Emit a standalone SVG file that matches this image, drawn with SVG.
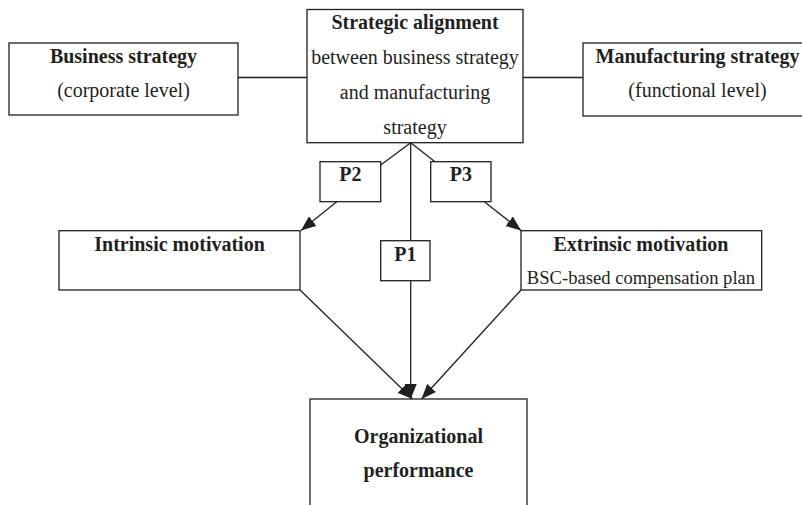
<svg xmlns="http://www.w3.org/2000/svg" width="802" height="505" viewBox="0 0 802 505">
<style>
.box{fill:#fff;stroke:#231f20;stroke-width:1.3}
.t{font-family:"Liberation Serif","Times New Roman",serif;font-size:20px;fill:#231f20;text-anchor:middle}
.b{font-weight:bold}
.c{stroke:#231f20;stroke-width:1.3;fill:none}
</style>
<defs>
<marker id="ah" markerUnits="userSpaceOnUse" markerWidth="16" markerHeight="12" refX="15" refY="6" orient="auto">
<path d="M0,0 L15,6 L0,12 Z" fill="#231f20"/>
</marker>
</defs>
<rect width="802" height="505" fill="#fff"/>
<g id="connectors">
<line class="c" x1="238" y1="77.5" x2="307" y2="77.5"/>
<line class="c" x1="523" y1="77.5" x2="583" y2="77.5"/>
<line class="c" x1="410.7" y1="142.7" x2="380.7" y2="165"/>
<line class="c" x1="410.7" y1="142.7" x2="435" y2="161.7"/>
<line class="c" x1="410.7" y1="142.7" x2="410.7" y2="240.7"/>
<line class="c" x1="336.7" y1="201.7" x2="301" y2="230.5" marker-end="url(#ah)"/>
<line class="c" x1="484.3" y1="201.7" x2="521" y2="230.5" marker-end="url(#ah)"/>
<line class="c" x1="410.7" y1="280.7" x2="410.7" y2="399" marker-end="url(#ah)"/>
<line class="c" x1="300" y1="290" x2="412.5" y2="399" marker-end="url(#ah)"/>
<line class="c" x1="521" y1="290" x2="421.5" y2="399" marker-end="url(#ah)"/>
</g>
<g id="business">
<rect class="box" x="9" y="43" width="229" height="72"/>
<text class="t b" x="123.5" y="63.3">Business strategy</text>
<text class="t" x="123.5" y="96.5">(corporate level)</text>
</g>
<g id="alignment">
<rect class="box" x="307" y="9.5" width="216" height="133.2"/>
<text class="t b" x="415" y="29.3">Strategic alignment</text>
<text class="t" x="415" y="64">between business strategy</text>
<text class="t" x="415" y="99">and manufacturing</text>
<text class="t" x="415" y="133.5">strategy</text>
</g>
<g id="manufacturing">
<rect class="box" x="583" y="43" width="229" height="73"/>
<text class="t b" x="697.5" y="63.3">Manufacturing strategy</text>
<text class="t" x="697.5" y="96.5">(functional level)</text>
</g>
<g id="p2">
<rect class="box" x="320" y="161.7" width="60.7" height="40"/>
<text class="t b" x="350.3" y="180.7">P2</text>
</g>
<g id="p3">
<rect class="box" x="430.7" y="161.7" width="60.3" height="40"/>
<text class="t b" x="460.8" y="180.7">P3</text>
</g>
<g id="p1">
<rect class="box" x="380.7" y="240.7" width="49.3" height="40"/>
<text class="t b" x="405.3" y="260.7">P1</text>
</g>
<g id="intrinsic">
<rect class="box" x="59" y="230.7" width="241" height="59.3"/>
<text class="t b" x="179.5" y="250.7">Intrinsic motivation</text>
</g>
<g id="extrinsic">
<rect class="box" x="521" y="230.7" width="240.7" height="59.3"/>
<text class="t b" x="641" y="250.7">Extrinsic motivation</text>
<text class="t" x="641" y="283.5" style="font-size:18.6px">BSC-based compensation plan</text>
</g>
<g id="performance">
<rect class="box" x="310" y="399" width="217" height="120"/>
<text class="t b" x="418.5" y="443.3">Organizational</text>
<text class="t b" x="418.5" y="476.7">performance</text>
</g>
</svg>
